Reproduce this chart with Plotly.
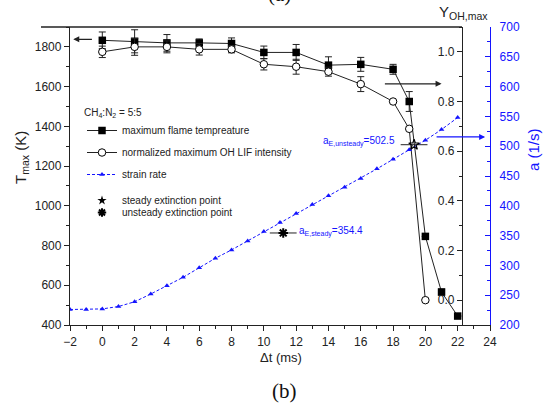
import plotly.graph_objects as go

# ---- data -------------------------------------------------------------
time_T = [0, 2, 4, 6, 8, 10, 12, 14, 16, 18, 19, 20, 21, 22]
T_max = [1833, 1828, 1820, 1820, 1817, 1772, 1772, 1708, 1712, 1687, 1525, 846, 566, 445]
T_err = [42, 58, 42, 20, 28, 32, 40, 42, 35, 25, 50, 0, 15, 0]

time_OH = [0, 2, 4, 6, 8, 10, 12, 14, 16, 18, 19, 20]
Y_OH = [1.00, 1.02, 1.02, 1.01, 1.01, 0.95, 0.94, 0.92, 0.87, 0.80, 0.69, 0.0]
Y_OH_err = [0.023, 0.034, 0.024, 0.023, 0.014, 0.023, 0.030, 0.018, 0.030, 0.0, 0.0, 0.0]

time_a = [-2, -1, 0, 1, 2, 3, 4, 5, 6, 7, 8, 9, 10, 11, 12, 13, 14, 15, 16, 17, 18, 19, 20, 21, 22]
strain = [226, 226, 227, 231, 239, 252, 266, 280, 296, 312, 326, 341, 357, 372, 387,
          402, 417, 431, 446, 462, 478, 494, 510, 528, 548]

steady_t, steady_a, steady_terr = [11.2], [354.4], [0.83]
unsteady_t, unsteady_a, unsteady_terr = [19.3], [502.5], [0.83]

x_ticks = list(range(-2, 25, 2))

FONT = "Arial, Liberation Sans, sans-serif"
SERIF = "Times New Roman, Liberation Serif, serif"
BLUE = "#1414ff"
INK = "#222"
W, H = 544, 408

# plot frame in pixels
X0, X1 = 70, 490
Y_TOP, Y_BOT = 27, 325
X_OH = 462


def px(x):
    return x / W


def py(y):
    return 1 - y / H


fig = go.Figure()

fig.add_trace(go.Scatter(
    x=time_T, y=T_max, yaxis="y", name="maximum flame tempreature",
    mode="lines+markers", legendgroup="g1",
    line=dict(color=INK, width=1),
    marker=dict(symbol="square", size=7.5, color="black"),
    error_y=dict(type="data", array=T_err, color=INK, thickness=1, width=3.5),
    legend="legend",
))

fig.add_trace(go.Scatter(
    x=time_OH, y=Y_OH, yaxis="y2", name="normalized maximum OH LIF intensity",
    mode="lines+markers", legendgroup="g2",
    line=dict(color=INK, width=1),
    marker=dict(symbol="circle", size=7.5, color="white", line=dict(color="black", width=1)),
    error_y=dict(type="data", array=Y_OH_err, color=INK, thickness=1, width=3.5),
    legend="legend",
))

fig.add_trace(go.Scatter(
    x=time_a, y=strain, yaxis="y3", name="strain rate",
    mode="lines+markers", legendgroup="g3",
    line=dict(color=BLUE, width=1, dash="3px,2px"),
    marker=dict(symbol="triangle-up", size=5, color=BLUE),
    legend="legend",
))

# extinction points on the strain-rate axis
fig.add_trace(go.Scatter(
    x=steady_t, y=steady_a, yaxis="y3", mode="markers", showlegend=False,
    marker=dict(symbol="asterisk-open", size=8, color="black",
                line=dict(color="black", width=2)),
    error_x=dict(type="data", array=steady_terr, color=INK, thickness=1, width=0),
))
fig.add_trace(go.Scatter(
    x=unsteady_t, y=unsteady_a, yaxis="y3", mode="markers", showlegend=False,
    marker=dict(symbol="star-open", size=8, color="black", line=dict(color="black", width=1.2)),
    error_x=dict(type="data", array=unsteady_terr, color=INK, thickness=1, width=0),
))

# legend-only entries for the extinction-point symbols
fig.add_trace(go.Scatter(
    x=[None], y=[None], yaxis="y3", mode="markers", name="steady extinction point",
    marker=dict(symbol="star", size=7, color="black"), legend="legend2",
))
fig.add_trace(go.Scatter(
    x=[None], y=[None], yaxis="y3", mode="markers", name="unsteady extinction point",
    marker=dict(symbol="asterisk-open", size=7, color="black",
                line=dict(color="black", width=2)),
    legend="legend3",
))

axis_common = dict(showgrid=False, zeroline=False, showline=True, linewidth=1.3,
                   ticklen=5, tickwidth=1, tickfont=dict(size=12, family=FONT))

legend_font = dict(size=10, family=FONT, color=INK)

fig.update_layout(
    width=W, height=H,
    margin=dict(l=0, r=0, t=0, b=0, autoexpand=False),
    paper_bgcolor="white", plot_bgcolor="white",
    font=dict(family=FONT, size=12, color=INK),
    xaxis=dict(domain=[px(X0), px(X1)], range=[-2, 24], tickvals=x_ticks,
               ticks="outside", linecolor=INK, tickcolor=INK,
               minor=dict(dtick=1, tick0=-2, ticklen=3, ticks="outside", tickcolor=INK),
               **axis_common),
    yaxis=dict(domain=[py(Y_BOT), py(Y_TOP)], range=[400, 1900], dtick=200, tick0=400,
               ticks="outside", linecolor=INK, tickcolor=INK, anchor="x",
               minor=dict(dtick=100, ticklen=3, ticks="outside", tickcolor=INK),
               **axis_common),
    yaxis2=dict(overlaying="y", anchor="free", position=px(X_OH), side="left",
                range=[-0.1, 1.1], dtick=0.2, tick0=0, tickformat=".1f",
                ticks="outside", linecolor=INK, tickcolor=INK,
                minor=dict(dtick=0.1, tick0=-0.1, ticklen=3, ticks="outside", tickcolor=INK),
                **axis_common),
    yaxis3=dict(overlaying="y", anchor="x", side="right", range=[200, 700],
                dtick=50, tick0=200, ticks="inside", linecolor=BLUE, tickcolor=BLUE,
                tickfont=dict(size=12, family=FONT, color=BLUE), ticklabelstandoff=6,
                minor=dict(dtick=25, ticklen=3, ticks="inside", tickcolor=BLUE),
                showgrid=False, zeroline=False, showline=True, linewidth=1.3,
                ticklen=5, tickwidth=1),
    legend=dict(x=px(82), y=py(103), xanchor="left", yanchor="top",
                bgcolor="rgba(0,0,0,0)", font=legend_font,
                title=dict(text="CH<sub>4</sub>:N<sub>2</sub> = 5:5", font=legend_font),
                tracegroupgap=3, traceorder="grouped", itemwidth=30),
    legend2=dict(x=px(82), y=py(186), xanchor="left", yanchor="top",
                 bgcolor="rgba(0,0,0,0)", font=legend_font, itemwidth=30),
    legend3=dict(x=px(82), y=py(198), xanchor="left", yanchor="top",
                 bgcolor="rgba(0,0,0,0)", font=legend_font, itemwidth=30),
    showlegend=True,
)

# top frame line
fig.add_shape(type="line", xref="paper", yref="paper",
              x0=px(41), x1=px(X_OH), y0=py(Y_TOP), y1=py(Y_TOP),
              line=dict(color=INK, width=1.3))

# direction arrows pointing at each series' axis
arrows = [
    dict(x=-1.8, ax=-0.55, y=1838, yref="y", color=INK),
    dict(x=21.0, ax=17.4, y=0.871, yref="y2", color=INK),
    dict(x=23.7, ax=20.6, y=515.5, yref="y3", color=BLUE),
]
for a in arrows:
    fig.add_annotation(x=a["x"], y=a["y"], xref="x", yref=a["yref"],
                       ax=a["ax"], ay=a["y"], axref="x", ayref=a["yref"],
                       text="", showarrow=True, arrowhead=2, arrowsize=1,
                       arrowwidth=1.2, arrowcolor=a["color"])

# extinction strain-rate labels
fig.add_annotation(x=steady_t[0], y=steady_a[0], xref="x", yref="y3",
                   text=f"a<sub>E,steady</sub>={steady_a[0]}", showarrow=False,
                   xanchor="left", yanchor="middle", xshift=14, yshift=1,
                   font=dict(size=10, family=FONT, color=BLUE))
fig.add_annotation(x=unsteady_t[0], y=unsteady_a[0], xref="x", yref="y3",
                   text=f"a<sub>E,unsteady</sub>={unsteady_a[0]}", showarrow=False,
                   xanchor="right", yanchor="middle", xshift=-17, yshift=3,
                   font=dict(size=10, family=FONT, color=BLUE))


def paper_text(x, y, text, size, color=INK, family=FONT, angle=0, xanchor="center"):
    fig.add_annotation(x=px(x), y=py(y), xref="paper", yref="paper", text=text,
                       showarrow=False, textangle=angle, xanchor=xanchor,
                       yanchor="middle", font=dict(size=size, family=family, color=color))


# axis titles
paper_text(22, 158, "T<sub>max</sub> (K)", 15, angle=-90)
paper_text(281, 357, "Δt (ms)", 13)
paper_text(437, 12, "Y<sub>OH,max</sub>", 15, xanchor="left")
paper_text(533, 150, "a (1/s)", 15, color=BLUE, angle=-90)

# panel labels
paper_text(284, 391, "(b)", 21, color="#111", family=SERIF)
paper_text(279, -6.5, "(a)", 21, color="#111", family=SERIF)

fig.write_html("out.html")
